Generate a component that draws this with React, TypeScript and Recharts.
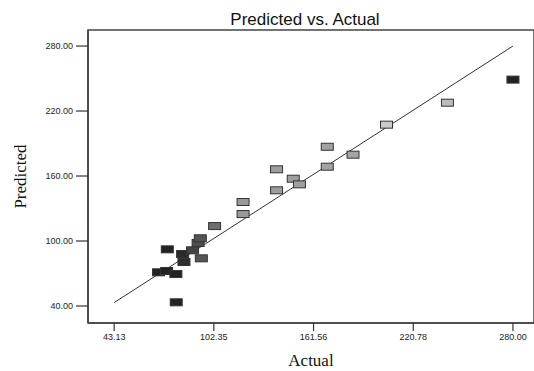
import { ScatterChart, Scatter, XAxis, YAxis, ReferenceLine, ReferenceArea, Label } from "recharts";

// values
const actual = [
  69.5, 74.3, 79.8, 80.0, 74.7, 83.8, 84.6, 89.7, 94.9, 93.0, 94.3, 102.8,
  119.7, 119.7, 139.6, 139.6, 149.5, 153.2, 169.7, 169.7, 185.0, 204.9, 241.1, 280.0,
];
const predicted = [
  71.1, 72.3, 69.5, 43.4, 92.3, 88.0, 80.6, 91.4, 84.0, 98.2, 102.5, 113.8,
  124.9, 136.0, 146.8, 166.2, 157.5, 152.3, 168.6, 187.0, 179.7, 207.4, 227.7, 249.0,
];
const xTicks = [43.13, 102.35, 161.56, 220.78, 280.0];
const yTicks = [40, 100, 160, 220, 280];
const fitLine = [43.13, 280.0];

const data = actual.map((a, i) => ({ actual: a, predicted: predicted[i] }));

const xDomain = [27.6, 292.5];
const yDomain = [24.3, 294.8];

// grey level by actual value (colour scale printed in greyscale)
const shadeStops: [number, number][] = [
  [60, 0x1e], [82, 0x24], [90, 0x44], [95, 0x55], [103, 0x70],
  [118, 0x99], [200, 0xa8], [205, 0xcc], [241, 0xbb], [262, 0x77], [280, 0x22],
];

function shade(v: number) {
  let g = shadeStops[0][1];
  for (let i = 0; i < shadeStops.length - 1; i++) {
    const [a, ga] = shadeStops[i];
    const [b, gb] = shadeStops[i + 1];
    if (v >= a && v <= b) {
      g = Math.round(ga + ((v - a) / (b - a)) * (gb - ga));
      break;
    }
    if (v > b) g = gb;
  }
  const h = g.toString(16).padStart(2, "0");
  return `#${h}${h}${h}`;
}

const RectMarker = (props: any) => {
  const { cx, cy, payload } = props;
  if (cx == null || cy == null) return null;
  return (
    <rect
      x={cx - 6}
      y={cy - 3.5}
      width={12}
      height={7}
      fill={shade(payload.actual)}
      stroke="#333"
      strokeWidth={1}
    />
  );
};

const tickStyle = { fill: "#222", fontSize: 9, fontFamily: "Liberation Sans, Arial, sans-serif" };

export default function App() {
  return (
    <div style={{ position: "absolute", left: 0, top: 0, width: 534, height: 371, background: "#fff" }}>
      <div
        style={{
          position: "absolute",
          top: 10,
          left: 0,
          width: 610,
          textAlign: "center",
          fontFamily: "Liberation Sans, Arial, sans-serif",
          fontSize: 17,
          color: "#111",
          whiteSpace: "nowrap",
        }}
      >
        Predicted vs. Actual
      </div>
      <ScatterChart width={534} height={371} margin={{ top: 30, right: 0, bottom: 0, left: 0 }}>
        <ReferenceArea
          x1={xDomain[0]}
          x2={xDomain[1]}
          y1={yDomain[0]}
          y2={yDomain[1]}
          fill="none"
          stroke="#444"
          strokeWidth={1.5}
          ifOverflow="visible"
        />
        <XAxis
          type="number"
          dataKey="actual"
          domain={xDomain}
          allowDataOverflow
          ticks={xTicks}
          tickFormatter={(v: number) => v.toFixed(2)}
          tick={tickStyle}
          tickSize={8}
          tickMargin={3}
          axisLine={{ stroke: "#444", strokeWidth: 1.5 }}
          tickLine={{ stroke: "#333", strokeWidth: 1.2 }}
          height={48}
        >
          <Label
            value="Actual"
            position="insideBottom"
            offset={5}
            style={{ fontFamily: "Liberation Serif, serif", fontSize: 17, fill: "#111" }}
          />
        </XAxis>
        <YAxis
          type="number"
          dataKey="predicted"
          domain={yDomain}
          allowDataOverflow
          ticks={yTicks}
          tickFormatter={(v: number) => v.toFixed(2)}
          tick={tickStyle}
          tickSize={12}
          tickMargin={3}
          axisLine={{ stroke: "#444", strokeWidth: 1.5 }}
          tickLine={{ stroke: "#333", strokeWidth: 1.2 }}
          width={88}
        >
          <Label
            content={(p: any) => {
              const vb = p.viewBox || {};
              const x = 20;
              const y = (vb.y ?? 30) + (vb.height ?? 293) / 2;
              return (
                <text
                  x={x}
                  y={y}
                  transform={`rotate(-90 ${x} ${y})`}
                  textAnchor="middle"
                  dominantBaseline="central"
                  style={{ fontFamily: "Liberation Serif, serif", fontSize: 17, fill: "#111" }}
                >
                  Predicted
                </text>
              );
            }}
          />
        </YAxis>
        <ReferenceLine
          segment={[
            { x: fitLine[0], y: fitLine[0] },
            { x: fitLine[1], y: fitLine[1] },
          ]}
          stroke="#333"
          strokeWidth={1}
        />
        <Scatter data={data} shape={RectMarker} isAnimationActive={false} />
      </ScatterChart>
    </div>
  );
}
